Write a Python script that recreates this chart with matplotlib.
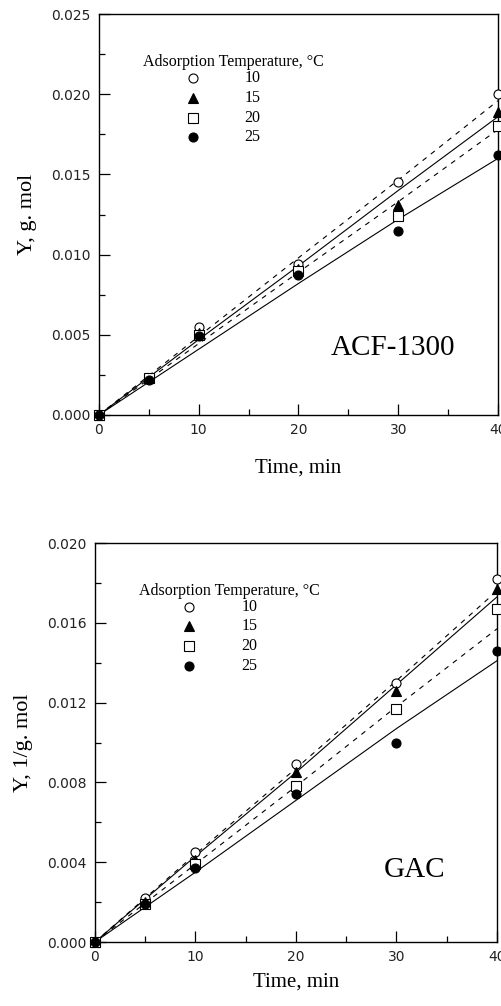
import matplotlib
matplotlib.use("Agg")
import matplotlib.pyplot as plt
from matplotlib.ticker import MultipleLocator, FormatStrFormatter

# sampling times, min
t = [0, 5, 10, 20, 30, 40]
t_fit = [0, 10, 20, 30, 40]

temps = ["10", "15", "20", "25"]

# ACF-1300 measured points
acf_10 = [0, 0.0023, 0.0055, 0.0094, 0.0145, 0.0200]
acf_15 = [0, 0.0023, 0.0051, 0.0091, 0.0131, 0.0189]
acf_20 = [0, 0.0023, 0.0050, 0.0090, 0.0124, 0.0180]
acf_25 = [0, 0.0022, 0.0049, 0.0087, 0.0115, 0.0162]

# ACF-1300 model lines
acf_dash1 = [0, 0.0049, 0.0098, 0.01465, 0.0196]
acf_solid1 = [0, 0.0047, 0.0093, 0.0140, 0.0186]
acf_dash2 = [0, 0.00445, 0.0089, 0.0133, 0.0178]
acf_solid2 = [0, 0.0041, 0.0082, 0.0122, 0.0160]

# GAC measured points
gac_10 = [0, 0.0022, 0.0045, 0.0089, 0.0130, 0.0182]
gac_15 = [0, 0.0020, 0.0041, 0.0085, 0.0126, 0.0177]
gac_20 = [0, 0.0019, 0.0039, 0.0078, 0.0117, 0.0167]
gac_25 = [0, 0.0019, 0.0037, 0.0074, 0.0100, 0.0146]

# GAC model lines
gac_dash1 = [0, 0.0044, 0.0087, 0.0131, 0.0176]
gac_solid1 = [0, 0.0043, 0.0085, 0.0129, 0.0173]
gac_dash2 = [0, 0.0039, 0.0078, 0.0118, 0.0157]
gac_solid2 = [0, 0.0035, 0.0071, 0.0107, 0.0141]

serif = "Liberation Serif"
tickfont = "DejaVu Sans"

marker_styles = [
    dict(marker="o", mfc="white", mec="black", ms=6.5, mew=0.8),
    dict(marker="^", mfc="black", mec="black", ms=7.5, mew=0.8),
    dict(marker="s", mfc="white", mec="black", ms=6.5, mew=0.8),
    dict(marker="o", mfc="black", mec="black", ms=6.5, mew=0.8),
]


def draw_panel(ax, series, lines, ymax, ystep, ylabel, name, name_xy, leg_x, xpad):
    for dash, yv in lines:
        if dash:
            ax.plot(t_fit, yv, color="black", lw=0.8, dashes=(4.5, 5), clip_on=False)
        else:
            ax.plot(t_fit, yv, color="black", lw=0.8, clip_on=False)
    for yv, st in zip(series, marker_styles):
        ax.plot(t, yv, ls="none", clip_on=False, zorder=5, **st)

    ax.set_xlim(0, 40)
    ax.set_ylim(0, ymax)
    ax.xaxis.set_major_locator(MultipleLocator(10))
    ax.xaxis.set_minor_locator(MultipleLocator(5))
    ax.yaxis.set_major_locator(MultipleLocator(ystep))
    ax.yaxis.set_minor_locator(MultipleLocator(ystep / 2))
    ax.yaxis.set_major_formatter(FormatStrFormatter("%.3f"))
    ax.tick_params(which="both", direction="in", top=False, right=False,
                   labelsize=10, labelcolor="#222222", pad=6)
    ax.tick_params(which="major", length=8, width=0.9)
    ax.tick_params(which="minor", length=4.5, width=0.9)
    for lab in ax.get_xticklabels() + ax.get_yticklabels():
        lab.set_family(tickfont)
    for sp in ax.spines.values():
        sp.set_linewidth(1.0)

    ax.set_xlabel("Time, min", family=serif, fontsize=15, labelpad=xpad)
    ax.set_ylabel(ylabel, family=serif, fontsize=16, labelpad=10)
    ax.text(name_xy[0], name_xy[1], name, family=serif, fontsize=21,
            va="center", ha="left")

    # legend block
    ax.text(leg_x, 0.88, "Adsorption Temperature, \u00b0C", transform=ax.transAxes,
            family=serif, fontsize=11.5, va="center", ha="left")
    for i, (lab, st) in enumerate(zip(temps, marker_styles)):
        yy = 0.84 - i * 0.049
        ax.plot([leg_x + 0.125], [yy], transform=ax.transAxes, ls="none",
                clip_on=False, **st)
        ax.text(leg_x + 0.255, yy, lab, transform=ax.transAxes, family=serif,
                fontsize=11.5, va="center", ha="left")


fig = plt.figure(figsize=(5.02, 10.06), dpi=100)
ax1 = fig.add_axes([0.197, 0.5875, 0.795, 0.3985])
ax2 = fig.add_axes([0.189, 0.0636, 0.801, 0.3966])

draw_panel(ax1, [acf_10, acf_15, acf_20, acf_25],
           [(True, acf_dash1), (False, acf_solid1), (True, acf_dash2), (False, acf_solid2)],
           0.025, 0.005, "Y, g. mol", "ACF-1300", (23.2, 0.0042), 0.11, 15)
draw_panel(ax2, [gac_10, gac_15, gac_20, gac_25],
           [(True, gac_dash1), (False, gac_solid1), (True, gac_dash2), (False, gac_solid2)],
           0.020, 0.004, "Y, 1/g. mol", "GAC", (28.7, 0.0036), 0.11, 6)

fig.savefig("out.png", dpi=100)
